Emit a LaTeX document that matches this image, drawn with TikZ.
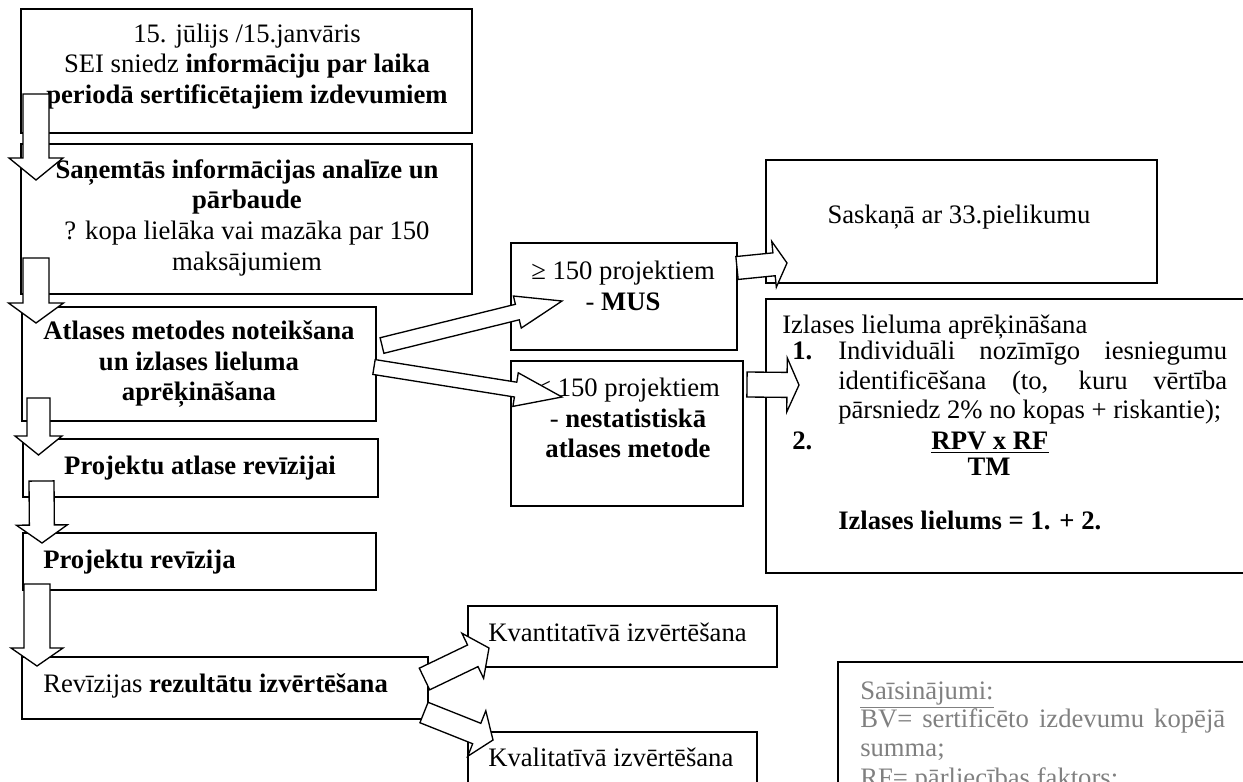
\documentclass[tikz,border=0pt]{standalone}
\usepackage{fontspec}
\setmainfont{Liberation Serif}
\usetikzlibrary{calc}
\newcommand\blkarrow[5]{%
  \pgfmathsetmacro\bah{#3*0.75}%
  \pgfmathsetmacro\bhh{#4*0.75}%
  \pgfmathsetmacro\bhl{#5*0.75}%
  \coordinate (hb) at ($(#2)!\bhl pt!(#1)$);
  \draw[barrow] ($(#1)!\bah pt!90:(#2)$) -- ($(hb)!\bah pt!90:(#2)$) -- ($(hb)!\bhh pt!90:(#2)$) -- (#2)
     -- ($(hb)!\bhh pt!-90:(#2)$) -- ($(hb)!\bah pt!-90:(#2)$) -- ($(#1)!\bah pt!-90:(#2)$) -- cycle;
}
\begin{document}
\begin{tikzpicture}[x=0.75pt,y=-0.75pt,
  every node/.style={inner sep=0pt, font=\fontsize{20}{23}\selectfont},
  box/.style={draw, line width=1.1pt},
  barrow/.style={draw, fill=white, line width=1pt, line join=miter},
  sl/.style={text height=14pt, text depth=4pt},
  one/.style={anchor=west, sl},
  leg/.style={anchor=west, sl, text=gray}]
\useasboundingbox (0,0) rectangle (1243,782);
\clip (0,0) rectangle (1243,782);

% boxes
\node[box, minimum width=338.25pt, minimum height=93pt]    (b1) at (246.5,71) {};
\node[box, minimum width=338.25pt, minimum height=112.5pt] (b2) at (246.5,219) {};
\node[box, minimum width=265.5pt,  minimum height=85.5pt]  (b3) at (199,364) {};
\node[box, minimum width=266.25pt, minimum height=43.5pt]  (b4) at (200.5,468) {};
\node[box, minimum width=264.75pt, minimum height=42.75pt] (b5) at (199.5,561.5) {};
\node[box, minimum width=304.5pt,  minimum height=46.5pt]  (b6) at (225,688) {};
\node[box, minimum width=231.75pt, minimum height=45.75pt] (bq) at (622.5,636.5) {};
\node[box, minimum width=216.75pt, minimum height=51pt]    (bl) at (612.5,766) {};
\node[box, minimum width=169.5pt,  minimum height=80.25pt] (bm) at (624,296.5) {};
\node[box, minimum width=174pt,    minimum height=108.75pt] (bn) at (627,433.5) {};
\node[box, minimum width=293.25pt, minimum height=92.25pt] (bs) at (961.5,221.5) {};
\node[box, minimum width=363pt,    minimum height=205.5pt] (bi) at (1008,436) {};
\node[box, minimum width=309pt,    minimum height=103.5pt] (bg) at (1044,731) {};

% texts
\node[align=center] (t1) at (247,66.5) {15. jūlijs /15.janvāris\\ SEI sniedz \textbf{informāciju par laika}\\ \textbf{periodā sertificētajiem izdevumiem}};
\node[align=center] (t2) at (247,217.5) {\textbf{Saņemtās informācijas analīze un}\\ \textbf{pārbaude}\\ ? kopa lielāka vai mazāka par 150\\ maksājumiem};
\node[align=center, font=\fontsize{20}{23}\selectfont\bfseries] (t3) at (199,364) {Atlases metodes noteikšana\\ un izlases lieluma\\ aprēķināšana};
\node[sl, font=\fontsize{20}{23}\selectfont\bfseries] (t4) at (200,468) {Projektu atlase revīzijai};
\node[one, font=\fontsize{20}{23}\selectfont\bfseries] (t5) at (43,562) {Projektu revīzija};
\node[one] (t6) at (43,686) {Revīzijas \textbf{rezultātu izvērtēšana}};
\node[one] (tq) at (488,635) {Kvantitatīvā izvērtēšana};
\node[one] (tl) at (488,760) {Kvalitatīvā izvērtēšana};
\node[align=center] (tm) at (623,286) {≥ 150 projektiem\\ - \textbf{MUS}};
\node[align=center] (tn) at (628,418) {< 150 projektiem\\ - \textbf{nestatistiskā}\\ \textbf{atlases metode}};
\node[sl] (ts) at (959,217) {Saskaņā ar 33.pielikumu};

\node[one] (iz0) at (782,327) {Izlases lieluma aprēķināšana};
\node[one, font=\fontsize{20}{23}\selectfont\bfseries] (iz1n) at (792,353) {1.};
\node[one] (iz1a) at (838,353) {\makebox[291.75pt][s]{Individuāli nozīmīgo iesniegumu}};
\node[one] (iz1b) at (838,383) {\makebox[291.75pt][s]{identificēšana (to, kuru vērtība}};
\node[one] (iz1c) at (838,412) {pārsniedz 2\% no kopas + riskantie);};
\node[one, font=\fontsize{20}{23}\selectfont\bfseries] (iz2n) at (792,443) {2.};
\node[sl] (rpv) at (990,443) {\underline{\textbf{RPV x RF}}};
\node[sl] (tm2) at (989,469) {\textbf{TM}};
\node[one, font=\fontsize{20}{23}\selectfont\bfseries] (izl) at (838,523) {Izlases lielums = 1. + 2.};

\node[leg] (g0) at (860,693) {\underline{Saīsinājumi:}};
\node[leg] (g1) at (860,721) {\makebox[273.75pt][s]{BV= sertificēto izdevumu kopējā}};
\node[leg] (g2) at (860,750) {summa;};
\node[leg] (g3) at (860,780) {RF= pārliecības faktors;};

% block arrows
\coordinate (a1s) at (36,94);     \coordinate (a1t) at (36,180);
\coordinate (a2s) at (36,258);    \coordinate (a2t) at (36,323);
\coordinate (a3s) at (38.5,398);  \coordinate (a3t) at (38.5,455);
\coordinate (a4s) at (41.5,481);  \coordinate (a4t) at (42,543);
\coordinate (a5s) at (37,584);    \coordinate (a5t) at (37,666);
\coordinate (a6s) at (382,345.5); \coordinate (a6t) at (562,301);
\coordinate (a7s) at (374,367);   \coordinate (a7t) at (562,397);
\coordinate (a8s) at (747,384.5); \coordinate (a8t) at (799,385);
\coordinate (a9s) at (737,268);   \coordinate (a9t) at (787,263);
\coordinate (a10s) at (424.5,679); \coordinate (a10t) at (489,648);
\coordinate (a11s) at (424,712.5); \coordinate (a11t) at (493,740);
\blkarrow{a1s}{a1t}{13}{27}{22}
\blkarrow{a2s}{a2t}{13}{27.5}{20}
\blkarrow{a3s}{a3t}{11.5}{23.5}{19}
\blkarrow{a4s}{a4t}{12.5}{25.5}{18}
\blkarrow{a5s}{a5t}{13}{26}{18}
\blkarrow{a6s}{a6t}{8}{16.5}{46}
\blkarrow{a7s}{a7t}{7.5}{17}{47}
\blkarrow{a8s}{a8t}{12.5}{27}{12}
\blkarrow{a9s}{a9t}{11.5}{23}{13}
\blkarrow{a10s}{a10t}{12}{25}{18}
\blkarrow{a11s}{a11t}{11}{24.5}{17.5}
\end{tikzpicture}
\end{document}
